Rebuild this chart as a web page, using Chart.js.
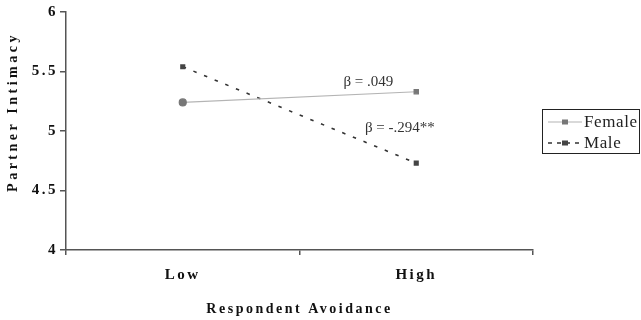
<!DOCTYPE html>
<html>
<head>
<meta charset="utf-8">
<script src="https://cdn.jsdelivr.net/npm/chart.js@4/dist/chart.umd.min.js"></script>
<style>
  html, body { margin: 0; padding: 0; background: #fff; }
  #wrap { position: relative; width: 641px; height: 320px; }
</style>
</head>
<body>
<div id="wrap"><canvas id="chart"></canvas></div>
<script>
const categories = ["Low", "High"];
const femaleValues = [5.24, 5.33];
const maleValues = [5.54, 4.73];
const yTicks = [4, 4.5, 5, 5.5, 6];
const yTickLabels = ["4", "4.5", "5", "5.5", "6"];
const femaleNote = "β = .049";
const maleNote = "β = -.294**";
const xTitle = "Respondent Avoidance";
const yTitle = "Partner Intimacy";

const axisColor = "#555";
const serif = "'Liberation Serif', 'Times New Roman', serif";

// letter spaced tick text, plain text for notes and legend
const spacing = {
  id: "spacing",
  beforeUpdate(chart) { chart.ctx.letterSpacing = "2.5px"; },
  beforeDraw(chart) { chart.ctx.letterSpacing = "2.5px"; }
};

const extras = {
  id: "extras",
  afterDraw(chart) {
    const { ctx, scales: { x, y } } = chart;
    ctx.save();

    // y axis title
    ctx.letterSpacing = "3.5px";
    ctx.font = "bold 14px " + serif;
    ctx.fillStyle = "#111";
    ctx.textAlign = "center";
    ctx.textBaseline = "middle";
    ctx.translate(13, 112);
    ctx.rotate(-Math.PI / 2);
    ctx.fillText(yTitle, 0, 0);
    ctx.setTransform(1, 0, 0, 1, 0, 0);

    // slope notes
    ctx.letterSpacing = "0px";
    ctx.font = "15px " + serif;
    ctx.fillStyle = "#333";
    ctx.fillText(femaleNote, x.getPixelForValue(0.795), y.getPixelForValue(5.41));
    ctx.fillText(maleNote, x.getPixelForValue(0.93), y.getPixelForValue(5.025));

    // legend
    const ds = chart.data.datasets;
    ctx.strokeStyle = "#222";
    ctx.lineWidth = 1;
    ctx.strokeRect(542.5, 109.5, 97, 44);
    const rows = [122, 143];
    ds.forEach((d, i) => {
      const ly = rows[i];
      ctx.beginPath();
      ctx.setLineDash(i ? [4, 5] : []);
      ctx.strokeStyle = d.borderColor;
      ctx.lineWidth = d.borderWidth;
      ctx.moveTo(548, ly);
      ctx.lineTo(582, ly);
      ctx.stroke();
      ctx.setLineDash([]);
      ctx.fillStyle = d.pointBackgroundColor;
      ctx.fillRect(562, ly - 2.5, 6, 5);
      ctx.fillStyle = "#222";
      ctx.textAlign = "left";
      ctx.font = "17px " + serif;
      ctx.letterSpacing = "0.6px";
      ctx.fillText(d.label, 584, ly + 1);
    });
    ctx.restore();
  }
};

new Chart(document.getElementById("chart"), {
  type: "line",
  data: {
    labels: categories,
    datasets: [
      {
        label: "Female",
        data: femaleValues,
        borderColor: "#b4b4b4",
        borderWidth: 1.2,
        pointStyle: ["circle", "rect"],
        pointRadius: [3.5, 3],
        pointBackgroundColor: "#777",
        pointBorderColor: "#777",
        tension: 0
      },
      {
        label: "Male",
        data: maleValues,
        borderColor: "#333",
        borderWidth: 1.6,
        borderDash: [3.5, 8],
        pointStyle: "rect",
        pointRadius: 2.5,
        pointBackgroundColor: "#444",
        pointBorderColor: "#444",
        tension: 0
      }
    ]
  },
  options: {
    responsive: true,
    maintainAspectRatio: false,
    animation: false,
    layout: { padding: { top: 12, right: 108, left: 0, bottom: 0 } },
    plugins: { legend: { display: false }, tooltip: { enabled: false } },
    scales: {
      x: {
        offset: true,
        grid: { offset: true, drawOnChartArea: false, drawTicks: true, tickLength: 5, color: axisColor, lineWidth: 1.5 },
        border: { display: true, color: axisColor, width: 1.5 },
        ticks: { color: "#111", padding: 11, font: { family: serif, size: 15, weight: "bold" } },
        title: {
          display: true,
          text: xTitle,
          color: "#111",
          padding: { top: 0, bottom: 2 },
          font: { family: serif, size: 14, weight: "bold" }
        },
        afterFit(s) { s.height = 70; }
      },
      y: {
        min: 4,
        max: 6,
        afterBuildTicks(s) { s.ticks = yTicks.map(v => ({ value: v })); },
        grid: { drawOnChartArea: false, drawTicks: true, tickLength: 6, color: axisColor, lineWidth: 1.5 },
        border: { display: true, color: axisColor, width: 1.5 },
        ticks: {
          color: "#111",
          padding: 2,
          font: { family: serif, size: 15, weight: "bold" },
          callback: v => yTickLabels[yTicks.indexOf(v)]
        },
        afterFit(s) { s.width = 66; }
      }
    }
  },
  plugins: [spacing, extras]
});
</script>
</body>
</html>
